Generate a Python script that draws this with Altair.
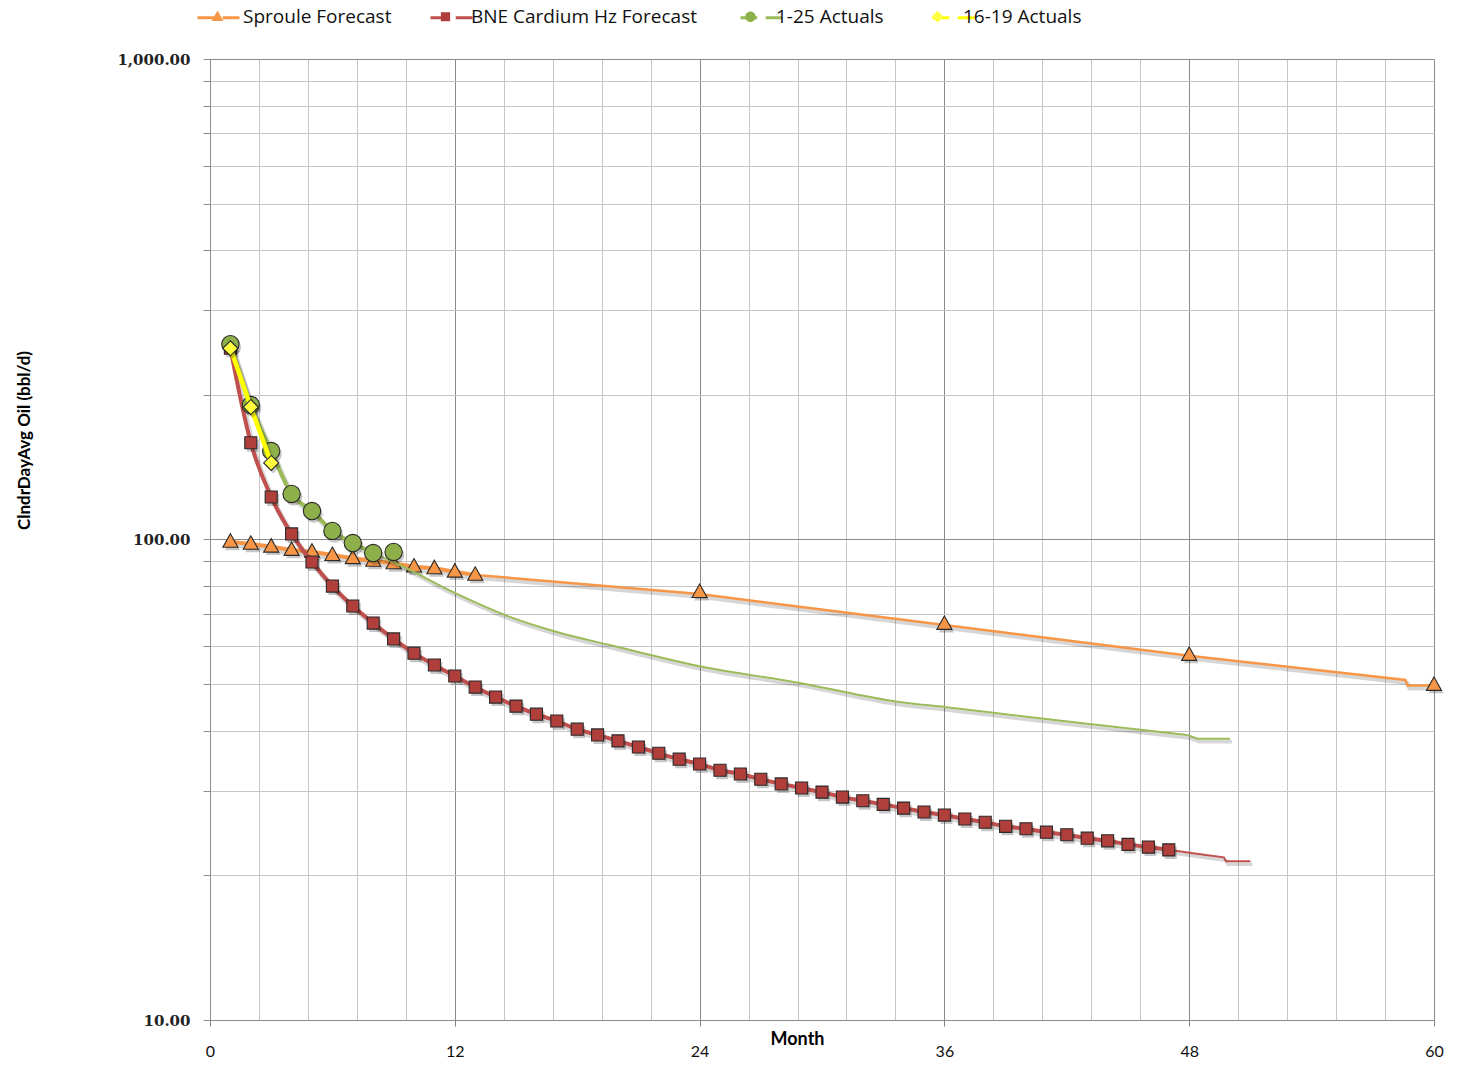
import altair as alt
import pandas as pd

SERIES = ["Sproule Forecast", "BNE Cardium Hz Forecast", "1-25 Actuals", "16-19 Actuals"]
LINE_COLORS = ["#F79646", "#C0504D", "#9BBB59", "#FFFF00"]
FILL_COLORS = ["#F79646", "#B03E3B", "#8DB04A", "#FFFF40"]
# custom marker paths (unit box -1..1); the zero-length end subpaths only widen the bounds
EXT = "M-1,0L-1,0M1,0L1,0"
SHAPES = [
    EXT + "M0,-0.30L0.28,0.20L-0.28,0.20Z",
    EXT + "M-0.22,-0.22L0.22,-0.22L0.22,0.22L-0.22,0.22Z",
    EXT + "M0.25,0A0.25,0.25 0 1,1 -0.25,0A0.25,0.25 0 1,1 0.25,0Z",
    EXT + "M0,-0.28L0.28,0L0,0.28L-0.28,0Z",
]
LEGEND_LINE = "M-1,0L-0.2,0M0.2,0L1,0"

# Sproule Forecast
sproule_marker_months = [1, 2, 3, 4, 5, 6, 7, 8, 9, 10, 11, 12, 13, 24, 36, 48, 60]
sproule_marker_vals = [98.9, 97.9, 96.6, 95.1, 94.3, 92.8, 91.4, 90.3, 89.2, 87.8, 87.1, 85.7, 84.4, 77.7, 66.7, 57.5, 49.8]
sproule_tail_months = [13, 24, 36, 48, 58.6, 58.7, 60]
sproule_tail_vals = [84.4, 77.0, 66.4, 57.3, 51.0, 49.7, 49.7]

# BNE Cardium Hz Forecast
bne_months = list(range(1, 48))
bne_vals = [250, 159, 122.6, 102.7, 89.8, 80.0, 72.7, 67.0, 62.1, 58.0,
            54.8, 52.0, 49.3, 47.0, 45.0, 43.3, 41.9, 40.3, 39.2, 38.1,
            37.0, 35.9, 34.9, 34.1, 33.1, 32.5, 31.7, 31.0, 30.4, 29.8,
            29.1, 28.6, 28.1, 27.6, 27.1, 26.7, 26.2, 25.8, 25.3, 25.0,
            24.6, 24.3, 23.9, 23.6, 23.2, 22.9, 22.6]
bne_tail_months = [47, 48, 49, 49.7, 49.8, 51]
bne_tail_vals = [22.6, 22.3, 22.0, 21.8, 21.4, 21.4]

# 1-25 Actuals
act_months = [1, 2, 3, 4, 5, 6, 7, 8, 9]
act_vals = [255, 190.5, 152.8, 124.4, 114.6, 104.2, 98.3, 93.7, 94.2]
fit_months = [8, 9.3, 12, 14.7, 17, 19.6, 24, 28.9, 33.8, 36, 38.4, 43.1, 47.9]
fit_vals = [93.7, 88.5, 77.4, 69.0, 64.2, 60.3, 54.5, 50.3, 45.9, 44.8, 43.6, 41.3, 39.2]
fit_tail_months = [47.9, 48.4, 50]
fit_tail_vals = [39.2, 38.5, 38.5]

# 16-19 Actuals
y1619_months = [1, 2, 3]
y1619_vals = [250, 188.7, 144.3]

x_grid = [round(i * 2.4, 1) for i in range(26)]
y_grid = [10, 20, 30, 40, 50, 60, 70, 80, 90, 100, 200, 300, 400, 500, 600, 700, 800, 900, 1000]

M_DOM = ["m|" + s for s in SERIES]


def frame(months, vals, name):
    return pd.DataFrame({"month": months, "oil": vals, "series": name, "series_m": "m|" + name})


xs = alt.Scale(domain=[0, 60], nice=False, zero=False)
ys = alt.Scale(type="log", domain=[10, 1000], nice=False)

x_enc = alt.X("month:Q", scale=xs, axis=alt.Axis(
    values=x_grid, title="Month",
    labelExpr="datum.value % 12 === 0 ? datum.label : ''",
    format="d",
    gridColor={"condition": {"test": "datum.value % 12 === 0", "value": "#8a8a8a"}, "value": "#c6c6c6"},
    tickColor={"condition": {"test": "datum.value % 12 === 0", "value": "#808080"}, "value": "transparent"},
    tickSize=6, labelPadding=17, labelFont="Lato", labelFontSize=16, labelColor="#111",
    labelFlush=False,
    domainColor="#8c8c8c", titleFont="Lato", titleFontSize=18, titleFontWeight="bold",
    titleX=587, titleY=19, titleBaseline="middle", titleColor="#000",
))
y_enc = alt.Y("oil:Q", scale=ys, axis=alt.Axis(
    values=y_grid, title="ClndrDayAvg Oil (bbl/d)",
    labelExpr="(datum.value == 10 || datum.value == 100 || datum.value == 1000) ? format(datum.value, ',.2f') : ''",
    gridColor={"condition": {"test": "datum.value == 10 || datum.value == 100 || datum.value == 1000", "value": "#8a8a8a"}, "value": "#c6c6c6"},
    tickColor="#8c8c8c", tickSize=7, labelPadding=13,
    labelFont="DejaVu Serif", labelFontSize=15, labelFontWeight="bold", labelColor="#222",
    domainColor="#8c8c8c", titleFont="Lato", titleFontSize=17, titleFontWeight="bold",
    titleX=-177, titleY=381, titleColor="#000",
))

stroke_scale = alt.Scale(domain=SERIES, range=LINE_COLORS)
color_scale = alt.Scale(domain=M_DOM, range=FILL_COLORS)
shape_scale = alt.Scale(domain=M_DOM, range=SHAPES)

LEG_X, LEG_Y = -14, -64
leg_common = dict(orient="none", legendX=LEG_X, legendY=LEG_Y, direction="horizontal",
                  columns=4, title=None, symbolSize=1764, labelFont="Open Sans",
                  labelFontSize=19, labelOffset=4, columnPadding=30, padding=0,
                  labelColor="#111", labelLimit=400,
                  labelExpr="replace(datum.label, 'm|', '')")

line_legend = alt.Legend(symbolType=LEGEND_LINE, symbolStrokeWidth=3, labelOpacity=0,
                         symbolFillColor="transparent", **leg_common)
marker_legend = alt.Legend(symbolStrokeColor="#2a2a2a", symbolStrokeWidth=1,
                           symbolOpacity=1, **leg_common)

stroke_enc = alt.Stroke("series:N", scale=stroke_scale, legend=line_legend)
color_enc = alt.Color("series_m:N", scale=color_scale, legend=marker_legend)
shape_enc = alt.Shape("series_m:N", scale=shape_scale, legend=marker_legend)


def shadow_line(df, w, interp="linear"):
    return alt.Chart(df).mark_line(color="#000", opacity=0.16, strokeWidth=w + 1.5,
                                   xOffset=2, yOffset=3, interpolate=interp).encode(x=x_enc, y=y_enc)


def line(df, w, interp="linear"):
    return alt.Chart(df).mark_line(strokeWidth=w, interpolate=interp).encode(x=x_enc, y=y_enc, stroke=stroke_enc)


def shadow_pts(df, size, path):
    return alt.Chart(df).mark_point(filled=True, color="#000", opacity=0.22, size=size, shape=path,
                                    xOffset=2, yOffset=3).encode(x=x_enc, y=y_enc)


def pts(df, size):
    return alt.Chart(df).mark_point(filled=True, stroke="#2a2a2a", strokeWidth=1.1, opacity=1,
                                    size=size).encode(x=x_enc, y=y_enc, color=color_enc, shape=shape_enc)


sp_m = frame(sproule_marker_months, sproule_marker_vals, SERIES[0])
sp_head = frame(sproule_marker_months[:13], sproule_marker_vals[:13], SERIES[0])
sp_t = frame(sproule_tail_months, sproule_tail_vals, SERIES[0])
bn_m = frame(bne_months, bne_vals, SERIES[1])
bn_t = frame(bne_tail_months, bne_tail_vals, SERIES[1])
ac_m = frame(act_months, act_vals, SERIES[2])
ac_head = frame(act_months[:8], act_vals[:8], SERIES[2])
ac_f = frame(fit_months, fit_vals, SERIES[2])
ac_ft = frame(fit_tail_months, fit_tail_vals, SERIES[2])
yl_m = frame(y1619_months, y1619_vals, SERIES[3])

layers = [
    shadow_line(sp_head, 4), shadow_line(sp_t, 2.5), line(sp_head, 4), line(sp_t, 2.5),
    shadow_pts(sp_m, 2900, SHAPES[0]), pts(sp_m, 2900),
    shadow_line(bn_m, 4, "monotone"), shadow_line(bn_t, 2), line(bn_m, 4, "monotone"), line(bn_t, 2),
    shadow_pts(bn_m, 3000, SHAPES[1]), pts(bn_m, 3000),
    shadow_line(ac_head, 4, "monotone"), shadow_line(ac_f, 2, "monotone"), shadow_line(ac_ft, 2),
    line(ac_head, 4, "monotone"), line(ac_f, 2, "monotone"), line(ac_ft, 2),
    shadow_pts(ac_m, 4800, SHAPES[2]), pts(ac_m, 4800),
    shadow_line(yl_m, 4.5), line(yl_m, 4.5), shadow_pts(yl_m, 2900, SHAPES[3]), pts(yl_m, 2900),
]

chart = alt.layer(*layers).properties(
    width=1224, height=961,
    autosize=alt.AutoSizeParams(type="none"),
    padding={"left": 202, "top": 51, "right": 16, "bottom": 49},
).configure_view(stroke="#9a9a9a", strokeWidth=1).configure(background="#ffffff")

chart.save("out.html", embed_options={"renderer": "svg", "actions": False})
